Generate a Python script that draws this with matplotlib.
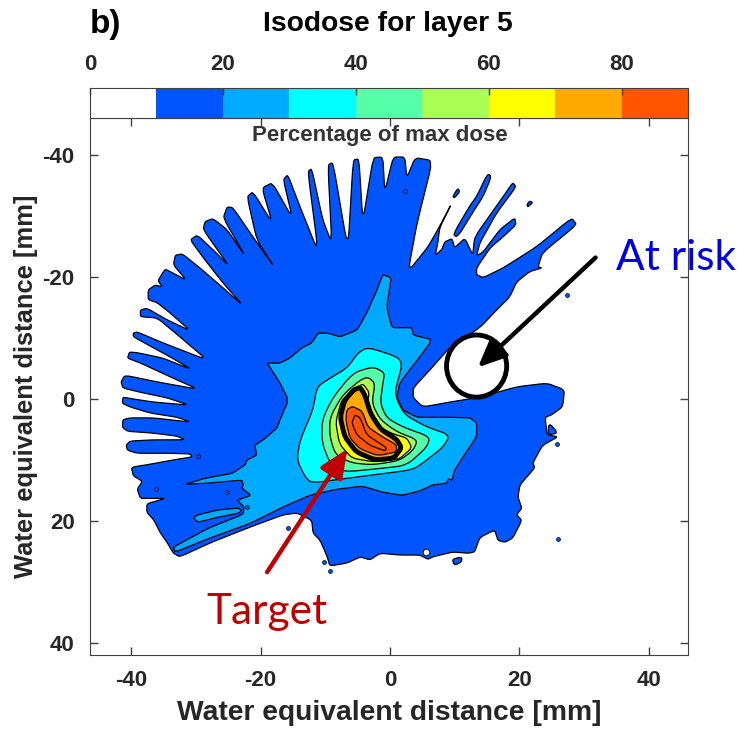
"""
Isodose map for layer 5, contour outlines read from the figure (mm).
"""
import numpy as np
import matplotlib
matplotlib.use("Agg")
import matplotlib.pyplot as plt
from matplotlib.patches import Ellipse, Polygon

plt.rcParams["font.family"] = ["Liberation Sans", "DejaVu Sans"]
plt.rcParams["axes.unicode_minus"] = False

DOSE_EDGES = [0, 10, 20, 30, 40, 50, 60, 70, 80, 90]
DOSE_COLORS = ["#FFFFFF", "#0055FF", "#00AAFF", "#00FFFF", "#55FFAA",
               "#AAFF55", "#FFFF00", "#FFAA00", "#FF5500"]
DOSE_TICKS = [0, 20, 40, 60, 80]
DIST_TICKS = [-40, -20, 0, 20, 40]

LEVEL_10 = [
    (-32.5, 25.9), (-33.5, 25.3), (-34.5, 23.5), (-35.5, 22.0), (-36.5, 19.9), (-37.6, 18.6),
    (-37.6, 17.2), (-36.0, 16.7), (-34.8, 16.3), (-37.1, 16.3), (-38.6, 16.3), (-39.1, 14.8),
    (-38.3, 13.5), (-39.7, 12.6), (-40.0, 11.2), (-37.1, 10.7), (-33.5, 10.0), (-30.6, 9.5),
    (-30.9, 9.0), (-34.5, 8.9), (-39.1, 8.9), (-40.6, 8.4), (-40.8, 7.6), (-40.2, 6.9),
    (-36.6, 6.7), (-31.7, 6.7), (-32.9, 6.1), (-36.6, 5.6), (-40.6, 5.3), (-41.4, 4.6),
    (-41.3, 3.4), (-40.2, 3.1), (-36.6, 3.1), (-30.8, 3.8), (-32.9, 3.0), (-37.1, 2.3),
    (-40.2, 1.3), (-41.4, 0.7), (-41.3, -0.3), (-39.7, 0.0), (-36.6, 0.5), (-31.1, 1.0),
    (-34.5, -0.2), (-38.6, -1.1), (-41.3, -1.8), (-41.6, -2.8), (-41.0, -3.9), (-36.0, -2.8),
    (-29.7, -1.6), (-33.5, -3.4), (-38.6, -5.9), (-40.6, -6.7), (-40.3, -7.7), (-39.1, -7.6),
    (-35.1, -6.7), (-30.6, -4.8), (-34.0, -6.9), (-39.7, -10.2), (-39.7, -10.8), (-39.1, -11.0),
    (-35.1, -9.2), (-28.3, -6.4), (-32.5, -10.2), (-36.0, -13.3), (-38.6, -13.5), (-38.6, -14.6),
    (-37.6, -14.9), (-34.5, -13.0), (-30.9, -11.2), (-34.0, -14.1), (-36.0, -15.8), (-37.4, -16.3),
    (-37.4, -17.9), (-36.3, -18.7), (-35.2, -18.4), (-35.9, -19.4), (-34.8, -21.3), (-34.0, -20.9),
    (-31.5, -19.5), (-33.5, -22.0), (-33.2, -23.6), (-32.1, -23.8), (-29.4, -21.5), (-26.0, -18.4),
    (-22.7, -15.3), (-25.8, -19.0), (-28.6, -22.8), (-30.9, -26.1), (-29.8, -26.9), (-27.0, -24.1),
    (-24.9, -21.8), (-28.9, -27.8), (-28.6, -29.1), (-27.4, -29.6), (-25.2, -27.8), (-22.3, -23.3),
    (-25.8, -29.7), (-25.2, -31.5), (-24.3, -31.4), (-21.2, -26.6), (-17.8, -21.5), (-20.6, -26.1),
    (-22.1, -33.2), (-21.2, -34.0), (-18.2, -28.9), (-19.8, -34.6), (-18.2, -35.5), (-15.1, -29.7),
    (-16.5, -36.0), (-15.8, -36.8), (-13.9, -31.5), (-11.1, -24.1), (-12.7, -37.3), (-12.1, -37.8),
    (-10.4, -29.4), (-9.0, -25.6), (-9.6, -38.4), (-8.8, -38.8), (-6.5, -24.5), (-5.7, -39.2),
    (-4.8, -39.4), (-4.2, -29.1), (-2.6, -39.6), (-1.1, -39.7), (-0.8, -34.0), (0.5, -39.7),
    (2.3, -39.7), (2.6, -36.3), (3.9, -39.6), (6.6, -39.1), (4.2, -28.9), (2.8, -20.9),
    (5.9, -25.0), (7.4, -27.8), (9.6, -32.2), (7.7, -28.1), (7.4, -25.6), (7.0, -23.6),
    (8.0, -24.5), (8.5, -25.8), (9.6, -26.3), (10.0, -24.8), (11.6, -26.4), (12.8, -23.6),
    (13.1, -26.6), (17.5, -33.2), (19.0, -35.5), (19.5, -34.8), (16.5, -30.5), (13.9, -25.6),
    (13.4, -23.5), (14.4, -24.1), (17.0, -27.8), (19.3, -29.7), (19.5, -28.6), (17.5, -26.6),
    (15.5, -24.8), (13.4, -21.5), (13.4, -20.4), (14.4, -19.9), (17.5, -21.5), (22.7, -25.0),
    (28.1, -29.7), (28.9, -28.6), (23.6, -24.0), (22.9, -21.7), (23.5, -21.5), (21.6, -20.9),
    (19.6, -19.2), (18.5, -16.7), (16.5, -14.6), (13.9, -11.7), (9.3, -8.5), (6.2, -4.8),
    (3.6, -1.8), (3.6, -0.2), (5.1, 1.3), (9.3, 0.5), (13.9, -0.3), (19.6, -2.0),
    (24.3, -2.6), (27.0, -1.5), (26.7, 1.3), (25.0, 2.6), (24.0, 3.0), (24.3, 5.9),
    (26.0, 6.2), (23.6, 7.6), (22.1, 10.5), (22.4, 11.3), (20.1, 14.1), (19.8, 16.1),
    (20.4, 17.9), (19.6, 19.0), (20.4, 19.9), (19.0, 22.8), (17.8, 23.5), (16.7, 23.2),
    (16.2, 21.5), (13.9, 22.7), (13.1, 25.1), (12.1, 25.3), (9.7, 25.1), (6.6, 25.9),
    (5.9, 26.3), (4.6, 25.6), (1.5, 25.6), (-1.5, 25.3), (-3.1, 26.4), (-4.6, 25.9),
    (-6.6, 26.9), (-9.3, 27.4), (-9.7, 25.9), (-10.8, 23.2), (-11.9, 22.0), (-12.1, 19.9),
    (-14.4, 18.7), (-16.5, 19.0), (-21.6, 21.0), (-27.8, 23.6),
]
# detached bits of the 10% level
LEVEL_10_FINGER = [(9.7, -26.9), (12.4, -31.8), (13.4, -33.2), (15.1, -37.0),
                   (15.7, -36.5), (14.4, -33.2), (12.8, -30.6), (10.5, -26.6)]
LEVEL_10_SPECK = [(9.7, -33.2), (10.5, -34.6), (10.8, -34.0), (10.0, -33.0)]
LEVEL_10_SPOT = [(21.2, -31.9), (21.6, -32.5), (22.1, -32.2), (21.3, -31.5)]
LEVEL_10_TRIANGLE = [(24.6, 3.9), (26.0, 5.6), (24.4, 5.9)]
LEVEL_10_LOBE = [(9.6, 26.3), (11.1, 25.9), (11.1, 26.7), (10.0, 27.3)]

LEVEL_20 = [
    (-33.2, 25.1), (-27.8, 22.8), (-21.6, 20.4), (-16.5, 17.7), (-12.4, 15.8), (-8.2, 14.8),
    (-4.2, 14.3), (-1.1, 15.3), (1.9, 15.8), (4.6, 15.1), (6.6, 14.1), (8.8, 13.8),
    (9.0, 13.1), (9.6, 13.3), (10.0, 11.7), (11.3, 9.5), (13.4, 6.2), (13.4, 3.9),
    (12.4, 3.1), (9.3, 3.0), (4.2, 3.0), (2.0, 1.8), (1.1, -0.3), (1.5, -2.6),
    (6.6, -9.7), (3.6, -10.5), (3.4, -11.7), (0.3, -11.7), (-0.5, -15.1), (0.2, -19.9),
    (-1.1, -20.4), (-2.0, -17.9), (-3.6, -14.1), (-5.1, -11.3), (-7.7, -10.2), (-9.6, -10.8),
    (-11.1, -10.8), (-12.1, -9.2), (-13.6, -8.4), (-15.5, -6.7), (-17.0, -5.9), (-19.0, -5.9),
    (-18.5, -5.1), (-17.0, -2.6), (-15.9, -0.3), (-15.9, 0.7), (-17.0, 3.4), (-17.5, 4.8),
    (-19.6, 6.7), (-20.9, 7.6), (-20.6, 9.2), (-22.1, 10.0), (-22.4, 10.8), (-24.4, 12.2),
    (-28.6, 13.0), (-31.7, 14.0), (-28.1, 13.8), (-22.9, 13.3), (-22.7, 14.1), (-22.9, 14.6),
    (-21.5, 15.8), (-23.6, 16.6), (-22.6, 17.7), (-22.7, 18.9), (-28.1, 21.2), (-33.5, 24.3),
]
LEVEL_20_ISLAND = [(-30.4, 19.5), (-29.7, 19.0), (-26.6, 18.2), (-23.5, 17.9),
                   (-23.0, 18.2), (-23.3, 18.7), (-26.6, 19.4), (-29.7, 20.2)]
LEVEL_30 = [
    (-3.4, -8.5), (1.2, -6.9), (1.9, -5.6), (0.8, -1.5), (1.1, 0.2), (2.3, 2.6),
    (5.7, 4.6), (9.3, 5.9), (8.2, 7.9), (5.7, 10.0), (3.6, 11.6), (-1.5, 12.3),
    (-6.6, 13.0), (-12.1, 13.8), (-13.1, 12.8), (-14.4, 10.0), (-13.9, 6.7), (-11.9, 1.8),
    (-11.3, -2.0), (-9.3, -3.4), (-6.6, -5.1), (-4.9, -7.6),
]
LEVEL_40 = [
    (-2.6, -5.3), (-0.8, -4.3), (-1.1, -2.6), (-1.5, 0.7), (-0.5, 3.1), (2.0, 4.6),
    (6.2, 6.2), (5.7, 7.9), (2.6, 10.9), (-1.5, 11.4), (-7.3, 12.0), (-9.3, 10.5),
    (-10.5, 7.2), (-10.5, 3.4), (-8.8, -0.3), (-5.7, -4.3),
]
LEVEL_50 = [
    (-3.4, -3.6), (-2.3, -2.6), (-2.8, 0.7), (-1.5, 3.4), (1.1, 5.4), (4.3, 6.7),
    (3.6, 8.4), (1.5, 10.1), (-2.6, 10.8), (-5.9, 10.5), (-8.4, 9.2), (-9.3, 6.2),
    (-9.3, 3.0), (-7.3, -0.7), (-4.6, -3.1),
]
LEVEL_60 = [
    (-4.2, -2.5), (-3.2, -1.1), (-3.6, 1.3), (-2.0, 4.4), (0.4, 5.7), (2.6, 6.4),
    (3.4, 8.0), (1.4, 9.9), (-2.6, 10.3), (-5.9, 9.7), (-7.8, 7.4), (-8.4, 3.8),
    (-7.5, 0.2), (-5.3, -1.7),
]
LEVEL_70 = [
    (-4.6, -1.9), (-3.9, -0.7), (-3.0, 2.4), (-1.4, 5.0), (1.0, 6.6), (1.8, 8.0),
    (0.6, 9.7), (-2.3, 10.0), (-5.2, 8.7), (-7.0, 6.2), (-7.7, 3.0), (-7.0, 0.2), (-5.6, -1.5),
]
LEVEL_80 = [
    (-5.8, 1.2), (-4.3, 2.0), (-3.4, 4.6), (-1.2, 6.2), (1.0, 7.5), (1.0, 8.7),
    (-1.9, 9.3), (-4.6, 8.2), (-6.2, 6.4), (-6.8, 3.6), (-6.7, 1.8),
]
LEVEL_85 = [
    (-5.4, 2.6), (-4.6, 3.1), (-3.6, 5.9), (-0.5, 8.0), (-0.8, 8.5), (-3.1, 7.6),
    (-5.1, 5.9), (-5.9, 3.9),
]

BLUE_DOTS_X = [-15.8, -10.2, -9.3, -29.7, -36.2, -25.2, -22.1, 25.9, 26.0, 27.4, 2.3]
BLUE_DOTS_Y = [21.2, 26.8, 28.2, 9.4, 14.8, 15.3, 17.7, 7.4, 22.9, -17.1, -34.2]
WHITE_DOTS_X = [5.6]
WHITE_DOTS_Y = [25.1]


def smooth(points, passes=2, cut=0.1):
    # corner cutting so the digitised outlines do not look faceted
    pts = np.array(points, dtype=float)
    for _ in range(passes):
        nxt = np.roll(pts, -1, axis=0)
        pts = np.column_stack([(1 - cut) * pts + cut * nxt, cut * pts + (1 - cut) * nxt]).reshape(-1, 2)
    return pts


def draw_level(ax, points, color, lw=0.9, fill=True, cut=0.1):
    ax.add_patch(Polygon(smooth(points, cut=cut), closed=True, facecolor=color if fill else "none",
                         edgecolor="black", linewidth=lw, joinstyle="round", zorder=2))


fig = plt.figure(figsize=(7.41, 7.31), dpi=100)
W, H = 741.0, 731.0
ax = fig.add_axes([90 / W, (H - 655) / H, 598 / W, 537 / H])
cax = fig.add_axes([90 / W, (H - 118) / H, 598 / W, 30 / H])
TICK_COLOR = "#262626"

# colour bar along the top
cax.pcolormesh(DOSE_EDGES, [0, 1], np.array([DOSE_EDGES[:-1]]),
               cmap=matplotlib.colors.ListedColormap(DOSE_COLORS),
               norm=matplotlib.colors.BoundaryNorm(DOSE_EDGES, len(DOSE_COLORS)))
cax.set_xlim(0, 90)
cax.set_yticks([])
cax.set_xticks(DOSE_TICKS)
cax.xaxis.tick_top()
cax.tick_params(axis="x", direction="in", length=5, width=1, color="#404040", pad=9,
                labelsize=16, labelcolor=TICK_COLOR)
for lab in cax.get_xticklabels():
    lab.set_fontweight("bold")
for s in cax.spines.values():
    s.set_color("#404040")

# nested isodose regions
draw_level(ax, LEVEL_10, DOSE_COLORS[1], cut=0.13)
for part in [LEVEL_10_FINGER, LEVEL_10_SPECK, LEVEL_10_SPOT, LEVEL_10_TRIANGLE, LEVEL_10_LOBE]:
    draw_level(ax, part, DOSE_COLORS[1], cut=0.2)
draw_level(ax, LEVEL_20, DOSE_COLORS[2])
draw_level(ax, LEVEL_20_ISLAND, DOSE_COLORS[2])
draw_level(ax, LEVEL_30, DOSE_COLORS[3], cut=0.2)
draw_level(ax, LEVEL_40, DOSE_COLORS[4], cut=0.2)
draw_level(ax, LEVEL_50, DOSE_COLORS[5], cut=0.2)
draw_level(ax, LEVEL_60, DOSE_COLORS[6], cut=0.15)
draw_level(ax, LEVEL_70, DOSE_COLORS[7], lw=3.5, cut=0.15)
draw_level(ax, LEVEL_80, DOSE_COLORS[8], cut=0.15)
draw_level(ax, LEVEL_85, None, fill=False, cut=0.15)
ax.scatter(BLUE_DOTS_X, BLUE_DOTS_Y, s=8, c=DOSE_COLORS[1], edgecolors="black", linewidths=0.5, zorder=3)
ax.scatter(WHITE_DOTS_X, WHITE_DOTS_Y, s=22, c="white", edgecolors="black", linewidths=0.6, zorder=3)

ax.set_xlim(-46.4, 46.1)
ax.set_ylim(42.0, -46.1)
ax.set_xticks(DIST_TICKS)
ax.set_yticks(DIST_TICKS)
ax.tick_params(axis="both", direction="in", length=6, width=1, color="#404040", top=True, right=True,
               labelsize=16, labelcolor=TICK_COLOR, pad=11)
for lab in ax.get_xticklabels() + ax.get_yticklabels():
    lab.set_fontweight("bold")
for s in ax.spines.values():
    s.set_color("#404040")
ax.set_xlabel("Water equivalent distance [mm]", fontsize=20.3, fontweight="bold", color=TICK_COLOR, labelpad=6)
ax.set_ylabel("Water equivalent distance [mm]", fontsize=18.4, fontweight="bold", color=TICK_COLOR, labelpad=3)

# overlays added by hand on the original figure
ax.add_patch(Ellipse((13.4, -5.4), 9.3, 10.2, fill=False, edgecolor="black", linewidth=3.5, zorder=5))
ax.annotate("", xy=(13.6, -5.2), xytext=(31.8, -23.2), zorder=6,
            arrowprops=dict(arrowstyle="-|>,head_width=0.4,head_length=0.9", lw=3.2, color="black",
                            mutation_scale=19, shrinkA=0, shrinkB=0))
ax.annotate("", xy=(-6.6, 8.2), xytext=(-19.0, 28.4), zorder=6,
            arrowprops=dict(arrowstyle="-|>,head_width=0.4,head_length=0.9", lw=3.2, color="#C00000",
                            mutation_scale=19, shrinkA=0, shrinkB=0))

fig.text(90 / W, 1 - 25 / H, "b)", fontsize=24, fontweight="bold", color="black", ha="left", va="center")
fig.text(388 / W, 1 - 24 / H, "Isodose for layer 5", fontsize=20.3, fontweight="bold", color="black",
         ha="center", va="center")
fig.text(380 / W, 1 - 136 / H, "Percentage of max dose", fontsize=16, fontweight="bold", color="#333333",
         ha="center", va="center")
fig.text(676 / W, 1 - 258 / H, "At risk", fontsize=30.5, color="#0000E6", family=["Lato", "DejaVu Sans"],
         ha="center", va="center")
fig.text(267 / W, 1 - 612 / H, "Target", fontsize=30.5, color="#C00000", family=["Lato", "DejaVu Sans"],
         ha="center", va="center")

fig.savefig("out.png", dpi=100)
